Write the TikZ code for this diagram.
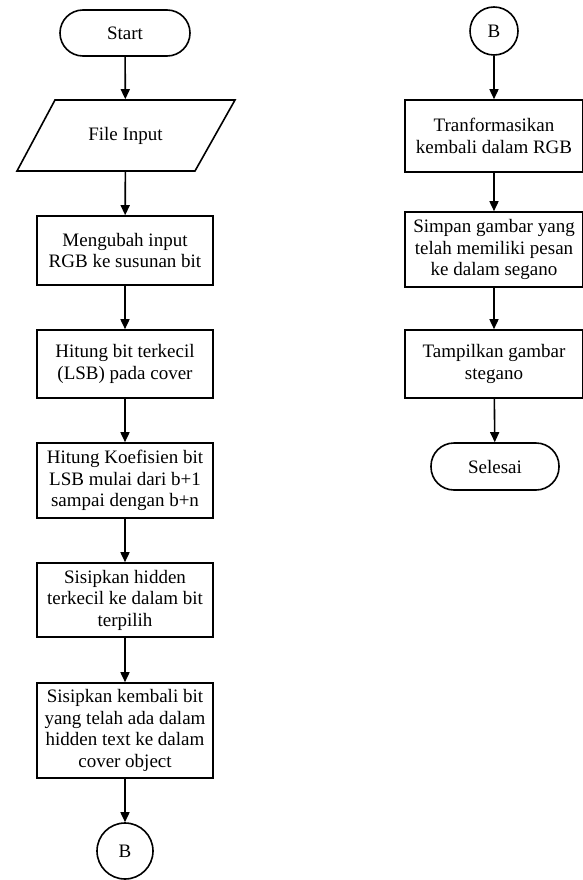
\documentclass[tikz,border=0pt]{standalone}
\usepackage{fontspec}
\setmainfont{Liberation Serif}
\usetikzlibrary{arrows.meta}
\tikzset{
  base/.style={font=\fontsize{19}{21.5}\selectfont, align=center, inner sep=0pt, line width=1.6pt},
  procbox/.style={base, draw, fill=white, minimum width=176pt},
  rprocbox/.style={base, draw, fill=white, minimum width=178pt},
  term/.style={base, draw, fill=white, rounded corners=23pt, minimum height=46pt},
  conn/.style={base, draw, fill=white, circle},
  flow/.style={line width=1.6pt, -{Triangle[width=9pt,length=10pt]}}
}
\begin{document}
\begin{tikzpicture}[x=1pt,y=-1pt]
\useasboundingbox (0,0) rectangle (583,880);
% left column
\node[term, minimum width=130pt] (start) at (125,33) {Start};
\draw[line width=1.6pt, fill=white] (55,100) -- (235,100) -- (195,171) -- (17,171) -- cycle;
\node[base, minimum width=170pt, minimum height=71pt] (file) at (125.5,135.5) {File Input};
\node[procbox, minimum height=69pt] (b1) at (125,250.5) {Mengubah input\\RGB ke susunan bit};
\node[procbox, minimum height=68pt] (b2) at (125,364) {Hitung bit terkecil\\(LSB) pada cover};
\node[procbox, minimum height=75pt] (b3) at (125,480.5) {Hitung Koefisien bit\\LSB mulai dari b+1\\sampai dengan b+n};
\node[procbox, minimum height=74pt] (b4) at (125,600) {Sisipkan hidden\\terkecil ke dalam bit\\terpilih};
\node[procbox, minimum height=95pt] (b5) at (125,730.5) {Sisipkan kembali bit\\yang telah ada dalam\\hidden text ke dalam\\cover object};
\node[conn, minimum size=56pt] (bl) at (125,851) {B};
\draw[flow] (start) -- (file);
\draw[flow] (file) -- (b1);
\draw[flow] (b1) -- (b2);
\draw[flow] (b2) -- (b3);
\draw[flow] (b3) -- (b4);
\draw[flow] (b4) -- (b5);
\draw[flow] (b5) -- (bl);
% right column
\node[conn, minimum size=48pt] (br) at (494,31) {B};
\node[rprocbox, minimum height=72pt] (r1) at (494,136) {Tranformasikan\\kembali dalam RGB};
\node[rprocbox, minimum height=75pt] (r2) at (494,249.5) {Simpan gambar yang\\telah memiliki pesan\\ke dalam segano};
\node[rprocbox, minimum height=68pt] (r3) at (494,364) {Tampilkan gambar\\stegano};
\node[term, minimum width=128pt, minimum height=47pt] (end) at (495,466.5) {Selesai};
\draw[flow] (br) -- (r1);
\draw[flow] (r1) -- (r2);
\draw[flow] (r2) -- (r3);
\draw[flow] (r3) -- (end);
\end{tikzpicture}
\end{document}
